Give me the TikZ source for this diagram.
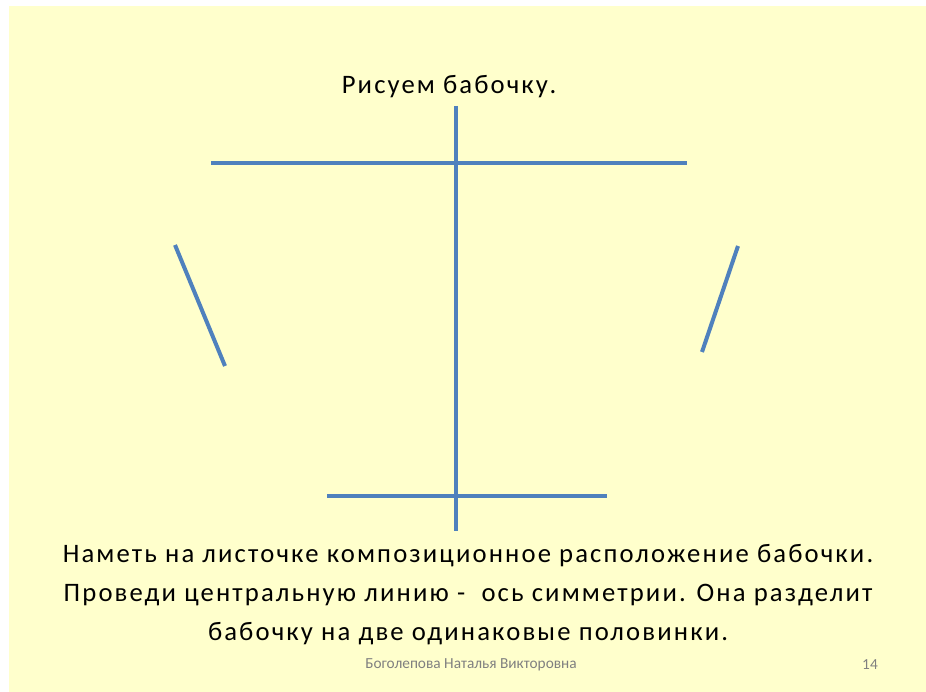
\documentclass[tikz,border=0pt]{standalone}
\usepackage{fontspec}
\setmainfont{Carlito}
\newfontfamily\slidefont[LetterSpace=8]{Carlito}
\usetikzlibrary{positioning}

\definecolor{slidebg}{RGB}{255,255,204}
\definecolor{guideblue}{RGB}{79,129,189}
\definecolor{footgray}{RGB}{128,128,128}

\begin{document}
\begin{tikzpicture}[
    x=0.75pt, y=-0.75pt,
    every node/.style={inner sep=0pt, font=\slidefont\fontsize{20}{29.25}\selectfont},
    guide/.style={draw=guideblue, line width=3pt},
    caption/.style={align=center},
    footer/.style={font=\fontsize{11.5}{13}\selectfont, text=footgray},
]
\useasboundingbox (0,0) rectangle (926,692);
\fill[slidebg] (9,6) rectangle (926,692);

% Title
\node (title) at (449,87) {Рисуем бабочку.};

% Guide points
\coordinate (axtop) at (456,106);
\coordinate (axbot) at (456,531);
\coordinate (topl) at (211,163);
\coordinate (topr) at (687,163);
\coordinate (botl) at (327,496);
\coordinate (botr) at (607,496);
\coordinate (wingla) at (175,245);
\coordinate (winglb) at (225,366);
\coordinate (wingra) at (738,246);
\coordinate (wingrb) at (702,352);

% Axis of symmetry and guide lines
\draw[guide] (axtop) -- (axbot);
\draw[guide] (topl) -- (topr);
\draw[guide] (botl) -- (botr);
\draw[guide] (wingla) -- (winglb);
\draw[guide] (wingra) -- (wingrb);

% Task text
\node[caption] (task) at (468,595) {Наметь на листочке композиционное расположение бабочки.\\
Проведи центральную линию -\ \ ось симметрии. Она разделит\\
бабочку на две одинаковые половинки.};

% Footer
\node[footer] (author) at (471,665) {Боголепова Наталья Викторовна};
\node[footer] (pagenum) at (870,665) {14};

\end{tikzpicture}
\end{document}
